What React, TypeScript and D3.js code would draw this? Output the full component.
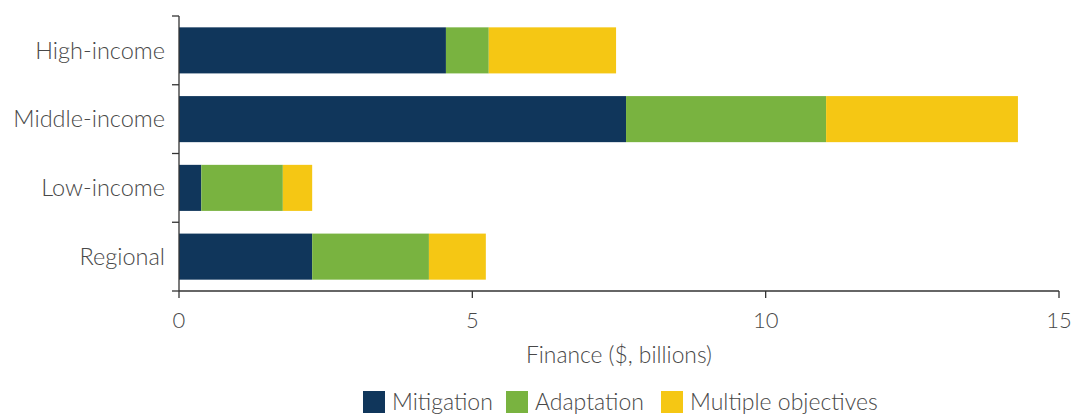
import React from "react";
import * as d3 from "d3";

const categories = ["High-income", "Middle-income", "Low-income", "Regional"];
const seriesNames = ["Mitigation", "Adaptation", "Multiple objectives"];
const mitigation = [4.55, 7.62, 0.38, 2.27];
const adaptation = [0.73, 3.41, 1.39, 1.99];
const multiple = [2.17, 3.27, 0.5, 0.97];
const xTicks = [0, 5, 10, 15];
const colors = ["#10365B", "#79B340", "#F5C714"];

export default function App() {
  const W = 1074, H = 414;
  const left = 179, right = 1059, top = 16, bottom = 291;
  const x = d3.scaleLinear().domain([0, 15]).range([left, right]);
  const y = d3.scaleBand().domain(categories).range([top, bottom]).paddingInner(0.33).paddingOuter(0.165);
  const table = categories.map((c, i) => ({ cat: c, Mitigation: mitigation[i], Adaptation: adaptation[i], "Multiple objectives": multiple[i] }));
  const stacked = d3.stack<any>().keys(seriesNames)(table);
  const font = "'Lato', 'Open Sans', sans-serif";
  const txt = "#484848";
  const bandStep = (bottom - top) / categories.length;
  const legendItems = [
    { name: "Mitigation", x: 363 },
    { name: "Adaptation", x: 506 },
    { name: "Multiple objectives", x: 661 },
  ];
  return (
    <svg width={W} height={H} style={{ position: "absolute", left: 0, top: 0 }} fontFamily={font} fontWeight={300}>
      {stacked.map((s, si) => (
        <g key={s.key} fill={colors[si]}>
          {s.map((d, i) => (
            <rect key={i} x={x(d[0])} y={y(categories[i])} width={x(d[1]) - x(d[0])} height={y.bandwidth()} />
          ))}
        </g>
      ))}
      <g stroke="#333" strokeWidth={1.3} fill="none">
        <line x1={left} x2={left} y1={top} y2={bottom} />
        <line x1={left} x2={right} y1={bottom} y2={bottom} />
        {d3.range(categories.length + 1).map((k) => (
          <line key={k} x1={left - 7} x2={left} y1={top + k * bandStep} y2={top + k * bandStep} />
        ))}
        {xTicks.map((t) => (
          <line key={t} x1={x(t)} x2={x(t)} y1={bottom} y2={bottom + 7} />
        ))}
      </g>
      {categories.map((c) => (
        <text key={c} x={165} y={(y(c) as number) + y.bandwidth() / 2} dy="0.35em" textAnchor="end" fontSize={23.5} fill={txt}>{c}</text>
      ))}
      {xTicks.map((t) => (
        <text key={t} x={x(t)} y={328} textAnchor="middle" fontSize={22} fill={txt}>{t}</text>
      ))}
      <text x={(left + right) / 2} y={363} textAnchor="middle" fontSize={22.8} fill={txt}>Finance ($, billions)</text>
      {legendItems.map((l, i) => (
        <g key={l.name}>
          <rect x={l.x} y={391} width={22} height={22} fill={colors[i]} />
          <text x={l.x + 29} y={410} fontSize={23} fill={txt}>{l.name}</text>
        </g>
      ))}
    </svg>
  );
}
